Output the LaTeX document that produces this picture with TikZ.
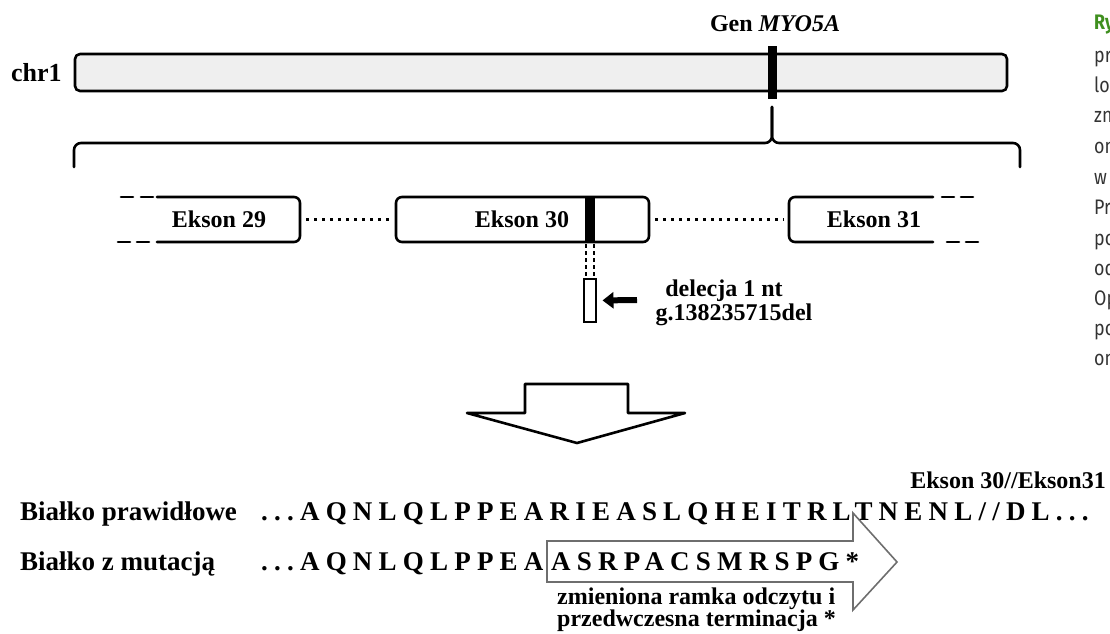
\documentclass[tikz,border=0pt]{standalone}
\usepackage{fontspec}
\setmainfont{Liberation Serif}
\newfontfamily\seqfont[LetterSpace=23]{Liberation Serif}
\newfontfamily\capfont[FakeStretch=0.85]{Fira Sans}
\usetikzlibrary{arrows.meta}
\definecolor{barfill}{HTML}{EFEFEF}
\definecolor{mutgray}{HTML}{6E6E6E}
\definecolor{capgreen}{HTML}{3F8F1F}
\definecolor{captext}{HTML}{333333}
\begin{document}
\begin{tikzpicture}[x=1pt,y=-1pt,
  thickline/.style={line width=2.6pt, line cap=round, line join=round},
  lbl/.style={font=\bfseries\fontsize{24}{28}\selectfont, inner sep=0pt, anchor=base},
  rowlbl/.style={font=\bfseries\fontsize{27}{30}\selectfont, inner sep=0pt, anchor=base west},
  seq/.style={font=\seqfont\bfseries\fontsize{27}{30}\selectfont, inner sep=0pt, anchor=base west},
  captxt/.style={font=\capfont\fontsize{21}{24}\selectfont, text=captext, inner sep=0pt, anchor=base west},
  dotline/.style={line width=3.2pt, dash pattern=on 3pt off 5pt},
  exonbox/.style={thickline, draw, rounded corners=6pt, inner sep=0pt, outer sep=0pt},
  band/.style={fill=black, inner sep=0pt, outer sep=0pt}
]
\useasboundingbox (0,0) rectangle (1110,633);

% chromosome
\node[rowlbl, font=\bfseries\fontsize{26}{30}\selectfont] (chrlbl) at (11,81) {chr1};
\node[exonbox, fill=barfill, rounded corners=5pt, minimum width=932pt, minimum height=37pt] (chr) at (541,72.5) {};
\node[band, minimum width=9pt, minimum height=53pt] (gene) at (772.5,72.5) {};
\node[lbl] (genlbl) at (775,31) {Gen \textit{MYO5A}};

% brace
\coordinate (btip) at (772,107);
\draw[thickline, rounded corners=7pt] (74,167) |- (772,143) -- (btip);
\draw[thickline, rounded corners=7pt] (1020,167) |- (772,143) -- (btip);

% exon 29 (open left)
\draw[thickline, rounded corners=6pt] (157,197) -- (300,197) -- (300,242) -- (157,242);
\draw[thickline] (121,197) -- (133,197) (141,197) -- (153,197);
\draw[thickline] (118,242) -- (130,242) (137,242) -- (149,242);
\coordinate (e29r) at (300,219.5);
\node[lbl] (e29) at (219,227) {Ekson 29};

% exon 30
\node[exonbox, minimum width=253pt, minimum height=45pt] (ex30) at (522.5,219.5) {};
\node[lbl] (e30) at (522,227) {Ekson 30};
\node[band, minimum width=10pt, minimum height=45pt] (mut) at (590,219.5) {};

% exon 31 (open right)
\draw[thickline, rounded corners=6pt] (933,197) -- (789,197) -- (789,242) -- (933,242);
\draw[thickline] (942,197) -- (954,197) (961,197) -- (973,197);
\draw[thickline] (947,242) -- (959,242) (966,242) -- (978,242);
\coordinate (e31l) at (789,219.5);
\node[lbl] (e31) at (874,227) {Ekson 31};

% introns
\draw[dotline] ([xshift=6pt]e29r) -- ([xshift=-6pt]ex30.west);
\draw[dotline] ([xshift=6pt]ex30.east) -- ([xshift=-5pt]e31l);

% deletion
\node[draw, line width=2pt, fill=white, minimum width=12pt, minimum height=43pt, inner sep=0pt] (del) at (589.5,300.5) {};
\draw[line width=1.6pt, dash pattern=on 4pt off 3pt] (586,244) -- (586,279);
\draw[line width=1.6pt, dash pattern=on 4pt off 3pt] (594,244) -- (594,279);
\coordinate (delarrow) at (637,300);
\draw[line width=6pt, -{Triangle[length=11pt,width=16pt]}, shorten >=6pt] (delarrow) -- (del.east);
\node[lbl] (dl1) at (724,296) {delecja 1 nt};
\node[lbl] (dl2) at (734,320) {g.138235715del};

% big down arrow
\draw[thickline, fill=white] (525,384) -- (628,384) -- (628,413) -- (685,413) -- (577,443) -- (467,413) -- (525,413) -- cycle;

% protein rows
\node[lbl, anchor=base east] (ejunc) at (1106,488) {Ekson 30//Ekson31};
\node[rowlbl] (r1l) at (20,520) {Białko prawidłowe};
\node[rowlbl] (r2l) at (20,570) {Białko z mutacją};
\node[seq] (r1s) at (261,520) {...AQNLQLPPEARIEASLQHEITRLTNENL//DL...};
\draw[mutgray, line width=1.6pt, line join=miter] (547,541) -- (853,541) -- (853,513) -- (897,562) -- (853,610) -- (853,582) -- (547,582) -- cycle;
\node[seq] (r2s) at (261,570) {...AQNLQLPPEA};
\node[seq] (r2m) at (551,570) {ASRPACSMRSPG*};
\node[lbl, anchor=base west] (zm1) at (557,604) {zmieniona ramka odczytu i};
\node[lbl, anchor=base west] (zm2) at (557,626) {przedwczesna terminacja *};

% cut caption on the right
\begin{scope}
\clip (0,0) rectangle (1110,633);
\node[captxt, font=\capfont\bfseries\fontsize{21}{24}\selectfont, text=capgreen] (c1) at (1094,29) {Ry};
\node[captxt] (c2) at (1094,62) {pr};
\node[captxt] (c3) at (1094,92) {lo};
\node[captxt] (c4) at (1094,122) {zn};
\node[captxt] (c5) at (1094,153) {on};
\node[captxt] (c6) at (1094,184) {w};
\node[captxt] (c7) at (1094,214) {Pr};
\node[captxt] (c8) at (1094,245) {po};
\node[captxt] (c9) at (1094,275) {od};
\node[captxt] (c10) at (1094,305) {Op};
\node[captxt] (c11) at (1094,335) {po};
\node[captxt] (c12) at (1094,365) {on};
\end{scope}
\end{tikzpicture}
\end{document}
